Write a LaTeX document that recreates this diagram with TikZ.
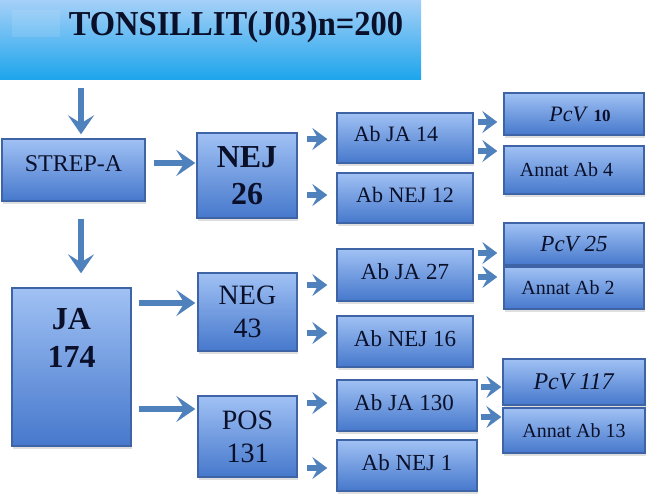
\documentclass[tikz,border=0pt]{standalone}
\usepackage{fontspec}
\usepackage{graphicx}
\setmainfont{Liberation Serif}
\usetikzlibrary{arrows.meta,shadows,calc}
\definecolor{boxtop}{RGB}{160,193,244}
\definecolor{boxbot}{RGB}{70,120,204}
\definecolor{boxline}{RGB}{62,100,165}
\definecolor{arrowc}{RGB}{79,129,189}
\definecolor{txtc}{RGB}{10,16,42}
\definecolor{ttop}{RGB}{165,208,248}
\definecolor{tmid}{RGB}{120,188,244}
\definecolor{tbot}{RGB}{30,165,236}
\begin{document}
\begin{tikzpicture}[x=1pt,y=1pt,
  box/.style={rectangle, draw=boxline, line width=1.4pt, top color=boxtop, bottom color=boxbot,
    text=txtc, align=center, inner sep=0pt,
    drop shadow={shadow xshift=1pt, shadow yshift=-2.5pt, opacity=0.25, fill=black!50}},
  up/.style={text depth=#1},
  txt/.style={text=txtc, align=center, inner sep=0pt},
  fs/.style={font=\fontsize{#1}{#1}\selectfont},
  bigarrow/.style={draw=arrowc, line width=5.5pt, -{Stealth[width=26pt,length=19pt,inset=8pt]}},
  smallarrow/.style={draw=arrowc, line width=5.5pt, -{Stealth[width=22pt,length=15pt,inset=6pt]}}
]
\useasboundingbox (0,0) rectangle (660,-496);
\fill[white] (0,0) rectangle (660,-496);

% title
\node[rectangle, minimum width=421pt, minimum height=79pt, top color=ttop, middle color=tmid, bottom color=tbot, inner sep=0pt] (title) at (210.5,-39.5) {};
\fill[white, opacity=0.1] (12,-10) rectangle (60,-37);
\node[txt, font=\fontsize{35}{40}\selectfont\bfseries] (titlet) at (236,-27) {\scalebox{0.93}[1]{TONSILLIT(J03)n=200}};

% level 1
\node[box, minimum width=143pt, minimum height=62pt, fs=24, up=13pt] (strep) at (73.5,-170) {STREP-A};
\node[box, minimum width=119pt, minimum height=158pt] (ja) at (71.5,-367) {};
\node[txt, font=\fontsize{32}{38}\selectfont\bfseries] (jat) at (71.5,-338) {JA\\174};

% level 2
\node[box, minimum width=100pt, minimum height=85pt, font=\fontsize{32}{37}\selectfont\bfseries] (nej) at (247,-175.5) {NEJ\\26};
\node[box, minimum width=99pt, minimum height=78pt, font=\fontsize{28}{33}\selectfont] (neg) at (247.5,-312) {NEG\\43};
\node[box, minimum width=99pt, minimum height=81pt, font=\fontsize{28}{33}\selectfont] (pos) at (247.5,-436.5) {POS\\131};

% level 3
\node[box, minimum width=136pt, minimum height=50pt, fs=22, up=8pt] (abja14) at (405,-138) {Ab JA 14\hspace*{18pt}};
\node[box, minimum width=136pt, minimum height=50pt, fs=22, up=7pt] (abnej12) at (405,-198) {Ab NEJ 12};
\node[box, minimum width=136pt, minimum height=52pt, fs=23, up=6pt] (abja27) at (405,-275) {Ab JA 27};
\node[box, minimum width=136pt, minimum height=51pt, fs=23, up=6pt] (abnej16) at (405,-341.5) {Ab NEJ 16};
\node[box, minimum width=140pt, minimum height=51pt, fs=23, up=6pt] (abja130) at (407,-405.5) {Ab JA 130\hspace*{6pt}};
\node[box, minimum width=140pt, minimum height=51pt, fs=23, up=6pt] (abnej1) at (407,-465.5) {Ab NEJ 1};

% level 4
\node[box, minimum width=140pt, minimum height=42pt, fs=22] (pcv10) at (574,-114) {\hspace*{12pt}\textit{PcV} {\fontsize{17}{20}\selectfont\bfseries 10}};
\node[box, minimum width=140pt, minimum height=48pt, fs=20] (annat4) at (574,-170) {Annat Ab 4\hspace*{15pt}};
\node[box, minimum width=140pt, minimum height=42pt, fs=23] (pcv25) at (574,-244) {\textit{PcV 25}};
\node[box, minimum width=140pt, minimum height=42pt, fs=20] (annat2) at (574,-288) {Annat Ab 2\hspace*{12pt}};
\node[box, minimum width=142pt, minimum height=46pt, fs=24] (pcv117) at (574,-382) {\textit{PcV 117}};
\node[box, minimum width=142pt, minimum height=45pt, fs=20] (annat13) at (574,-430.5) {Annat Ab 13};

% connectors
\coordinate (c80) at (81,0);
\draw[bigarrow, shorten <=9pt, shorten >=4pt] (title.south -| c80) -- (strep.north -| c80);
\draw[bigarrow, shorten <=17pt, shorten >=14pt] (strep.south -| c80) -- (ja.north -| c80);
\draw[bigarrow, shorten <=8pt, shorten >=1pt] ([yshift=7pt]strep.east) -- ([yshift=7pt]strep.east -| nej.west);
\draw[bigarrow, shorten <=7pt, shorten >=2pt] ([yshift=9pt]neg.west -| ja.east) -- ([yshift=9pt]neg.west);
\draw[bigarrow, shorten <=7pt, shorten >=2pt] ([yshift=27.5pt]pos.west -| ja.east) -- ([yshift=27.5pt]pos.west);

\draw[smallarrow, shorten <=9pt, shorten >=9pt] ([yshift=-1pt]abja14.west -| nej.east) -- ([yshift=-1pt]abja14.west);
\draw[smallarrow, shorten <=9pt, shorten >=9pt] ([yshift=3pt]abnej12.west -| nej.east) -- ([yshift=3pt]abnej12.west);
\draw[smallarrow, shorten <=9pt, shorten >=9pt] ([yshift=-10pt]abja27.west -| neg.east) -- ([yshift=-10pt]abja27.west);
\draw[smallarrow, shorten <=9pt, shorten >=9pt] ([yshift=8.5pt]abnej16.west -| neg.east) -- ([yshift=8.5pt]abnej16.west);
\draw[smallarrow, shorten <=9pt, shorten >=9pt] ([yshift=2.5pt]abja130.west -| pos.east) -- ([yshift=2.5pt]abja130.west);
\draw[smallarrow, shorten <=9pt, shorten >=9pt] ([yshift=-2.5pt]abnej1.west -| pos.east) -- ([yshift=-2.5pt]abnej1.west);

\draw[smallarrow, shorten <=4pt, shorten >=6pt] ([yshift=-8pt]pcv10.west -| abja14.east) -- ([yshift=-8pt]pcv10.west);
\draw[smallarrow, shorten <=4pt, shorten >=6pt] ([yshift=19pt]annat4.west -| abja14.east) -- ([yshift=19pt]annat4.west);
\draw[smallarrow, shorten <=4pt, shorten >=6pt] ([yshift=-9pt]pcv25.west -| abja27.east) -- ([yshift=-9pt]pcv25.west);
\draw[smallarrow, shorten <=4pt, shorten >=6pt] ([yshift=11pt]annat2.west -| abja27.east) -- ([yshift=11pt]annat2.west);
\draw[smallarrow, shorten <=3pt, shorten >=1pt] ([yshift=-5pt]pcv117.west -| abja130.east) -- ([yshift=-5pt]pcv117.west);
\draw[smallarrow, shorten <=3pt, shorten >=1pt] ([yshift=13.5pt]annat13.west -| abja130.east) -- ([yshift=13.5pt]annat13.west);
\end{tikzpicture}
\end{document}
